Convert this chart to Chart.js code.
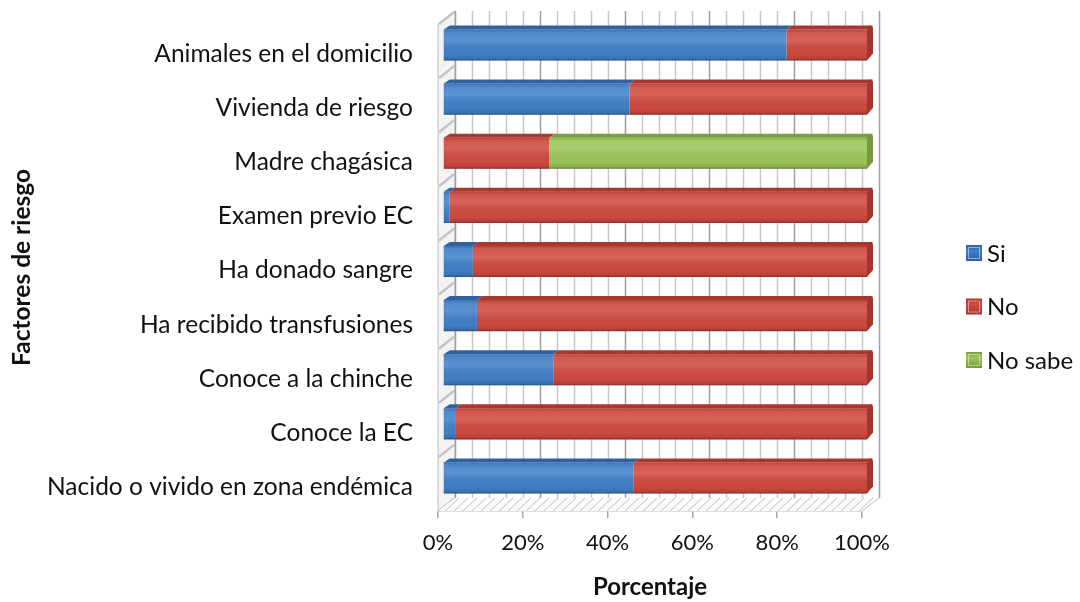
<!DOCTYPE html>
<html>
<head>
<meta charset="utf-8">
<script src="https://cdn.jsdelivr.net/npm/chart.js@4.4.0/dist/chart.umd.min.js"></script>
<style>
  html, body { margin: 0; padding: 0; background: #fff; }
  #wrap { width: 1080px; height: 602px; }
</style>
</head>
<body>
<div id="wrap"><canvas id="chart" width="1080" height="602"></canvas></div>
<script>
// Risk factors, top to bottom
const categories = [
  "Animales en el domicilio",
  "Vivienda de riesgo",
  "Madre chagásica",
  "Examen previo EC",
  "Ha donado sangre",
  "Ha recibido transfusiones",
  "Conoce a la chinche",
  "Conoce la EC",
  "Nacido o vivido en zona endémica"
]

// Percentages per answer
const si = [81, 44, 0, 1.5, 7, 8, 26, 3, 45]
const no = [19, 56, 25, 98.5, 93, 92, 74, 97, 55]
const noSabe = [0, 0, 75, 0, 0, 0, 0, 0, 0]

const seriesNames = ["Si", "No", "No sabe"]
const xTickStep = 20

// Colours: face, top face, end cap
const palette = [
  { face: "#4280c8", top: "#2f629f", side: "#2d5f9a" },
  { face: "#d04a40", top: "#a8372f", side: "#a2352e" },
  { face: "#9cc75a", top: "#7a9f3d", side: "#77993c" }
]

// 3D offsets: walls and floor depth, bars shift, bar thickness depth
const WALL = { dx: 17, dy: -13 }
const BAR_SHIFT = { dx: 5, dy: -6 }
const BAR_DEPTH = { dx: 6, dy: -4 }

const FONT = "Lato"
Chart.defaults.font.family = FONT
Chart.defaults.color = "#111"

// Back wall, left wall and floor behind the bars, then bars get shifted
const depth3d = {
  id: "depth3d",
  beforeDatasetsDraw(chart) {
    const { ctx, chartArea: a, scales } = chart
    const xs = scales.x
    const band = (a.bottom - a.top) / categories.length

    ctx.save()

    // left wall
    ctx.beginPath()
    ctx.moveTo(a.left, a.top)
    ctx.lineTo(a.left + WALL.dx, a.top + WALL.dy)
    ctx.lineTo(a.left + WALL.dx, a.bottom + WALL.dy)
    ctx.lineTo(a.left, a.bottom)
    ctx.closePath()
    ctx.fillStyle = "#f3f3f3"
    ctx.fill()
    ctx.strokeStyle = "#bcbcbc"
    ctx.lineWidth = 1
    ctx.stroke()

    // slanted strokes on the left wall between categories
    ctx.strokeStyle = "#c4c4c4"
    ctx.lineWidth = 2.5
    for (let i = 0; i <= categories.length; i++) {
      const yy = a.top + i * band
      ctx.beginPath()
      ctx.moveTo(a.left + 1, yy)
      ctx.lineTo(a.left + WALL.dx - 1, yy + WALL.dy + 1)
      ctx.stroke()
    }

    // floor
    ctx.beginPath()
    ctx.moveTo(a.left, a.bottom)
    ctx.lineTo(a.right, a.bottom)
    ctx.lineTo(a.right + WALL.dx, a.bottom + WALL.dy)
    ctx.lineTo(a.left + WALL.dx, a.bottom + WALL.dy)
    ctx.closePath()
    ctx.fillStyle = "#fbfbfb"
    ctx.fill()
    ctx.save()
    ctx.clip()
    ctx.strokeStyle = "#bdbdbd"
    ctx.lineWidth = 1
    for (let px = a.left - 20; px < a.right + 30; px += 9) {
      ctx.beginPath()
      ctx.moveTo(px, a.bottom)
      ctx.lineTo(px + 14, a.bottom + WALL.dy)
      ctx.stroke()
    }
    ctx.restore()
    ctx.strokeStyle = "#bdbdbd"
    ctx.lineWidth = 1
    ctx.beginPath()
    ctx.moveTo(a.right, a.bottom)
    ctx.lineTo(a.right + WALL.dx, a.bottom + WALL.dy)
    ctx.stroke()

    // back wall gridlines, minor every 4 %, major on the tick step
    for (let v = 0; v <= 100; v += 4) {
      const px = Math.round(xs.getPixelForValue(v) + WALL.dx) + 0.5
      const major = v % xTickStep === 0
      ctx.strokeStyle = major ? "#a0a0a0" : "#c8c8c8"
      ctx.lineWidth = 1.5
      ctx.beginPath()
      ctx.moveTo(px, a.top + WALL.dy)
      ctx.lineTo(px, a.bottom + WALL.dy)
      ctx.stroke()
    }
    ctx.restore()

    ctx.save()
    ctx.translate(BAR_SHIFT.dx, BAR_SHIFT.dy)
  },

  afterDatasetsDraw(chart) {
    const { ctx } = chart
    const metas = chart.data.datasets.map((d, i) => chart.getDatasetMeta(i))

    categories.forEach((c, row) => {
      let last = -1
      chart.data.datasets.forEach((ds, k) => { if (ds.data[row] > 0) last = k })

      metas.forEach((meta, k) => {
        const value = chart.data.datasets[k].data[row]
        if (!(value > 0)) return
        const el = meta.data[row]
        const left = Math.min(el.base, el.x)
        const right = Math.max(el.base, el.x)
        const top = el.y - el.height / 2
        const bottom = el.y + el.height / 2

        // shading across the front face
        const g = ctx.createLinearGradient(0, top, 0, bottom)
        g.addColorStop(0, "rgba(0,0,0,0.12)")
        g.addColorStop(0.12, "rgba(255,255,255,0.08)")
        g.addColorStop(0.35, "rgba(255,255,255,0.14)")
        g.addColorStop(0.8, "rgba(0,0,0,0.02)")
        g.addColorStop(0.93, "rgba(0,0,0,0.12)")
        g.addColorStop(1, "rgba(0,0,0,0.35)")
        ctx.fillStyle = g
        ctx.fillRect(left, top, right - left, bottom - top)

        // top face
        ctx.beginPath()
        ctx.moveTo(left, top)
        ctx.lineTo(right, top)
        ctx.lineTo(right + BAR_DEPTH.dx, top + BAR_DEPTH.dy)
        ctx.lineTo(left + BAR_DEPTH.dx, top + BAR_DEPTH.dy)
        ctx.closePath()
        ctx.fillStyle = palette[k].top
        ctx.fill()

        // end cap on the last segment
        if (k === last) {
          const r = 3
          ctx.beginPath()
          ctx.moveTo(right, top)
          ctx.lineTo(right + BAR_DEPTH.dx - r, top + BAR_DEPTH.dy)
          ctx.quadraticCurveTo(right + BAR_DEPTH.dx, top + BAR_DEPTH.dy, right + BAR_DEPTH.dx, top + BAR_DEPTH.dy + r)
          ctx.lineTo(right + BAR_DEPTH.dx, bottom + BAR_DEPTH.dy - r)
          ctx.lineTo(right, bottom)
          ctx.closePath()
          ctx.fillStyle = palette[k].side
          ctx.fill()
        }
      })
    })
    ctx.restore()
  },

  // legend on the right
  afterDraw(chart) {
    const { ctx } = chart
    const x0 = 966
    const y0 = 253
    const step = 53.5
    const s = 16
    ctx.save()
    chart.data.datasets.forEach((ds, k) => {
      const cy = y0 + k * step
      const g = ctx.createLinearGradient(0, cy - s / 2, 0, cy + s / 2)
      g.addColorStop(0, palette[k].top)
      g.addColorStop(0.35, palette[k].face)
      g.addColorStop(1, palette[k].side)
      ctx.fillStyle = g
      ctx.fillRect(x0, cy - s / 2, s, s)
      ctx.strokeStyle = "rgba(255,255,255,0.45)"
      ctx.lineWidth = 1
      ctx.strokeRect(x0 + 2.5, cy - s / 2 + 2.5, s - 5, s - 5)
      ctx.fillStyle = "#111"
      ctx.font = "24px " + FONT
      ctx.textBaseline = "middle"
      ctx.textAlign = "left"
      ctx.fillText(ds.label, x0 + s + 5, cy + 1)
    })
    ctx.restore()
  }
}

const datasets = [si, no, noSabe].map((values, k) => ({
  label: seriesNames[k],
  data: values,
  backgroundColor: palette[k].face,
  borderWidth: 0,
  barPercentage: 0.575,
  categoryPercentage: 1,
  clip: false
}))

new Chart(document.getElementById("chart"), {
  type: "bar",
  data: { labels: categories, datasets: datasets },
  options: {
    indexAxis: "y",
    responsive: false,
    animation: false,
    devicePixelRatio: 1,
    layout: { padding: { left: 0, right: 218, top: 24, bottom: 0 } },
    plugins: {
      legend: { display: false },
      tooltip: { enabled: false }
    },
    scales: {
      x: {
        stacked: true,
        min: 0,
        max: 100,
        ticks: {
          stepSize: xTickStep,
          padding: 12,
          font: { size: 22 },
          color: "#111",
          callback: (v) => v + "%"
        },
        grid: { drawOnChartArea: false, drawTicks: true, tickLength: 7, color: "#a6a6a6", lineWidth: 1.5 },
        border: { display: true, color: "#bdbdbd", width: 1.5 },
        title: {
          display: true,
          text: "Porcentaje",
          font: { size: 24, weight: "bold" },
          color: "#111",
          padding: { top: 0, bottom: 0 }
        },
        afterFit: (scale) => { scale.height = 91 }
      },
      y: {
        stacked: true,
        ticks: { padding: 0, labelOffset: 3, font: { size: 24.5 }, color: "#111" },
        // invisible tick marks keep the labels clear of the side wall
        grid: { display: true, drawOnChartArea: false, drawTicks: true, tickLength: 25, color: "rgba(0,0,0,0)" },
        border: { display: false },
        title: {
          display: true,
          text: "Factores de riesgo",
          font: { size: 24.5, weight: "bold" },
          color: "#111",
          padding: { top: 7, bottom: 0 }
        },
        afterFit: (scale) => { scale.width = 438 }
      }
    }
  },
  plugins: [depth3d]
})
</script>
</body>
</html>
